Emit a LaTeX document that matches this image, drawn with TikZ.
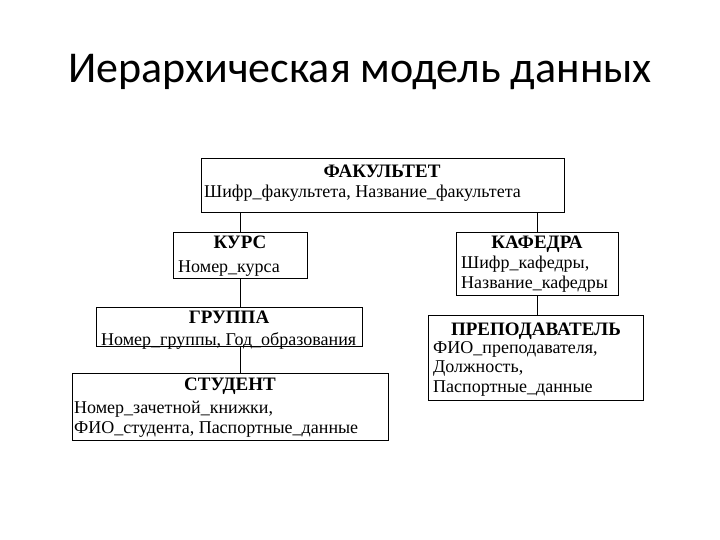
\documentclass[tikz,border=0pt]{standalone}
\usepackage{fontspec}
\setmainfont{Liberation Serif}
\newfontfamily\titlefont{Carlito}
\begin{document}
\begin{tikzpicture}[x=1pt,y=-1pt,
  entity/.style={draw=black,line width=1.1pt,inner sep=0pt,anchor=north west},
  hdr/.style={font=\fontsize{19}{21}\selectfont\bfseries,anchor=base,inner sep=0pt},
  attr/.style={font=\fontsize{18}{20}\selectfont,anchor=base west,inner sep=0pt,align=left},
  link/.style={draw=black,line width=0.9pt}]
\useasboundingbox (0,0) rectangle (720,540);
\node[anchor=base,inner sep=0pt,font=\titlefont\fontsize{44}{50}\selectfont] (title) at (360,83) {Иерархическая модель данных};
% boxes
\node[entity,minimum width=363pt,minimum height=54pt] (fak) at (201,158) {};
\node[entity,minimum width=134pt,minimum height=46pt] (kurs) at (173,232) {};
\node[entity,minimum width=162pt,minimum height=63pt] (kaf) at (456,232) {};
\node[entity,minimum width=266pt,minimum height=39pt] (gr) at (96,307) {};
\node[entity,minimum width=215pt,minimum height=85pt] (prep) at (428,315) {};
\node[entity,minimum width=316pt,minimum height=67pt] (st) at (72,373) {};
% texts
\node[hdr] (fakh) at (382,178) {ФАКУЛЬТЕТ};
\node[attr] (faka) at (204,197) {Шифр\_факультета, Название\_факультета};
\node[hdr] (kursh) at (240,248) {КУРС};
\node[attr] (kursa) at (178,272) {Номер\_курса};
\node[hdr] (kafh) at (537,248) {КАФЕДРА};
\node[attr] (kafa) at (461,268) {Шифр\_кафедры,};
\node[attr] (kafb) at (461,288) {Название\_кафедры};
\node[hdr] (grh) at (229,323) {ГРУППА};
\node[attr] (gra) at (101,345) {Номер\_группы, Год\_образования};
\node[hdr] (prh) at (536,335) {ПРЕПОДАВАТЕЛЬ};
\node[attr] (pra) at (433,353) {ФИО\_преподавателя,};
\node[attr] (prb) at (433,372) {Должность,};
\node[attr] (prc) at (433,392) {Паспортные\_данные};
\node[hdr] (sth) at (230,390) {СТУДЕНТ};
\node[attr] (sta) at (74,413) {Номер\_зачетной\_книжки,};
\node[attr] (stb) at (74,433) {ФИО\_студента, Паспортные\_данные};
% connectors
\coordinate (c1) at (240,0);
\coordinate (c2) at (537,0);
\draw[link] (fak.south -| c1) -- (kurs.north -| c1);
\draw[link] (kurs.south -| c1) -- (gr.north -| c1);
\draw[link] (gr.south -| c1) -- (st.north -| c1);
\draw[link] (fak.south -| c2) -- (kaf.north -| c2);
\draw[link] (kaf.south -| c2) -- (prep.north -| c2);
\end{tikzpicture}
\end{document}
